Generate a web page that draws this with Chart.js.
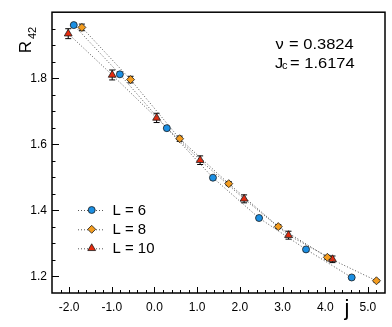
<!DOCTYPE html>
<html>
<head>
<meta charset="utf-8">
<script src="https://cdn.jsdelivr.net/npm/chart.js@4.4.1/dist/chart.umd.min.js"></script>
<style>
html,body{margin:0;padding:0;background:#fff;}
#c{display:block;}
</style>
</head>
<body>
<canvas id="c" width="392" height="327"></canvas>
<script>
// ---- data ----
const seriesLabels = ['L = 6', 'L = 8', 'L = 10'];
const xL6  = [-1.89, -0.81, 0.29, 1.37, 2.45, 3.55, 4.62];
const yL6  = [1.961, 1.812, 1.649, 1.499, 1.377, 1.282, 1.197];
const xL8  = [-1.70, -0.56, 0.59, 1.74, 2.90, 4.05, 5.20];
const yL8  = [1.954, 1.796, 1.617, 1.481, 1.351, 1.258, 1.187];
const eL8  = [0.010, 0.010, 0.008, 0.006, 0.006, 0.006, 0.004];
const xL10 = [-2.02, -0.99, 0.05, 1.07, 2.10, 3.14, 4.17];
const yL10 = [1.935, 1.810, 1.680, 1.552, 1.435, 1.325, 1.252];
const eL10 = [0.015, 0.015, 0.014, 0.013, 0.012, 0.012, 0.010];
const xTicks = [-2, -1, 0, 1, 2, 3, 4, 5];
const yTicks = [1.2, 1.4, 1.6, 1.8];
const nuText = '\u03BD';
const nuValue = '= 0.3824';
const jcText = '= 1.6174';

const BLUE = '#1b8fe3', ORANGE = '#f39c1f', RED = '#e62b0e';
const EDGE = '#1a1a1a';
const LINE = '#555555';
const FONT = '"Liberation Sans", Arial, Helvetica, sans-serif';

function pts(xs, ys) { return xs.map((x, i) => ({x: x, y: ys[i]})); }

function ds(label, data, style, color, radius, err) {
  return {
    label: label, data: data, showLine: true,
    borderColor: LINE, borderWidth: 1, borderDash: [1, 2],
    pointStyle: style, pointRadius: radius, pointHoverRadius: radius,
    pointBackgroundColor: color, pointBorderColor: EDGE, pointBorderWidth: 0.8,
    errors: err
  };
}

function stretchText(ctx, text, x, y, sx) {
  ctx.save();
  ctx.translate(x, y);
  ctx.scale(sx, 1);
  ctx.fillText(text, 0, 0);
  ctx.restore();
}

const decor = {
  id: 'decor',
  beforeDatasetsDraw(chart) {
    const ctx = chart.ctx, xs = chart.scales.x, ys = chart.scales.y;
    ctx.save();
    ctx.strokeStyle = '#000';
    ctx.lineWidth = 1;
    chart.data.datasets.forEach(d => {
      if (!d.errors) return;
      d.data.forEach((p, i) => {
        const e = d.errors[i];
        const px = xs.getPixelForValue(p.x);
        const p1 = ys.getPixelForValue(p.y + e), p2 = ys.getPixelForValue(p.y - e);
        ctx.beginPath();
        ctx.moveTo(px, p1); ctx.lineTo(px, p2);
        ctx.moveTo(px - 3, p1); ctx.lineTo(px + 3, p1);
        ctx.moveTo(px - 3, p2); ctx.lineTo(px + 3, p2);
        ctx.stroke();
      });
    });
    ctx.restore();
  },
  afterDraw(chart) {
    const ctx = chart.ctx, a = chart.chartArea, xs = chart.scales.x, ys = chart.scales.y;
    ctx.save();
    // frame
    ctx.strokeStyle = '#000';
    ctx.lineWidth = 1.5;
    ctx.strokeRect(a.left, a.top, a.right - a.left, a.bottom - a.top);
    // ticks (inward)
    ctx.lineWidth = 1;
    ctx.beginPath();
    for (let k = -12; k <= 27; k++) {
      const v = k * 0.2;
      const px = Math.round(xs.getPixelForValue(v)) + 0.5;
      if (px <= a.left + 1 || px >= a.right - 1) continue;
      const major = (k % 5 === 0);
      ctx.moveTo(px, a.bottom); ctx.lineTo(px, a.bottom - (major ? 6 : 3));
    }
    for (let k = 23; k <= 40; k++) {
      const v = k * 0.05;
      const py = Math.round(ys.getPixelForValue(v)) + 0.5;
      if (py <= a.top + 1 || py >= a.bottom - 1) continue;
      const major = (k % 4 === 0);
      ctx.moveTo(a.left, py); ctx.lineTo(a.left + (major ? 7 : 3.5), py);
    }
    ctx.stroke();

    // annotation
    ctx.fillStyle = '#000';
    ctx.textBaseline = 'alphabetic';
    ctx.textAlign = 'left';
    ctx.font = '15px ' + FONT;
    stretchText(ctx, nuText, 275.5, 48.5, 1.1);
    stretchText(ctx, nuValue, 289, 48.5, 1.1);
    stretchText(ctx, 'J', 275, 67.5, 1.1);
    ctx.font = '10px ' + FONT;
    stretchText(ctx, 'c', 282, 68.5, 1.1);
    ctx.font = '15px ' + FONT;
    stretchText(ctx, jcText, 290, 67.5, 1.1);

    // legend
    const colors = [BLUE, ORANGE, RED];
    const styles = ['circle', 'rectRot', 'triangle'];
    const radii = [3.5, 4, 4.5];
    const ly = [210, 229.3, 248.3];
    for (let i = 0; i < 3; i++) {
      ctx.save();
      ctx.strokeStyle = LINE; ctx.lineWidth = 1; ctx.setLineDash([1, 2]);
      ctx.beginPath(); ctx.moveTo(78, ly[i] + 0.5); ctx.lineTo(105, ly[i] + 0.5); ctx.stroke();
      ctx.restore();
      ctx.fillStyle = colors[i]; ctx.strokeStyle = EDGE; ctx.lineWidth = 0.8;
      Chart.helpers.drawPoint(ctx, {pointStyle: styles[i], radius: radii[i], borderWidth: 0.8, rotation: 0}, 91.7, ly[i]);
      ctx.fillStyle = '#000';
      ctx.font = '14.5px ' + FONT;
      ctx.textBaseline = 'middle';
      stretchText(ctx, seriesLabels[i], 112.5, ly[i] + 0.5, 1.03);
    }

    // axis titles
    ctx.textBaseline = 'alphabetic';
    ctx.font = '22px ' + FONT;
    ctx.textAlign = 'center';
    ctx.fillText('j', 347, 315);
    ctx.save();
    ctx.translate(31, 47);
    ctx.rotate(-Math.PI / 2);
    ctx.font = '17px ' + FONT;
    ctx.textAlign = 'center';
    ctx.fillText('R', 0, 0);
    ctx.restore();
    ctx.save();
    ctx.translate(36, 33);
    ctx.rotate(-Math.PI / 2);
    ctx.font = '11px ' + FONT;
    ctx.textAlign = 'center';
    ctx.fillText('42', 0, 0);
    ctx.restore();
    ctx.restore();
  }
};

new Chart(document.getElementById('c'), {
  type: 'scatter',
  data: {
    datasets: [
      ds(seriesLabels[0], pts(xL6, yL6), 'circle', BLUE, 3.5, null),
      ds(seriesLabels[1], pts(xL8, yL8), 'rectRot', ORANGE, 4, eL8),
      ds(seriesLabels[2], pts(xL10, yL10), 'triangle', RED, 4.5, eL10)
    ]
  },
  options: {
    responsive: false, animation: false, devicePixelRatio: 1,
    layout: {padding: {top: 7, right: 7, left: 0, bottom: 0}},
    plugins: {legend: {display: false}, tooltip: {enabled: false}},
    scales: {
      x: {
        type: 'linear', min: -2.4, max: 5.4,
        afterBuildTicks: s => { s.ticks = xTicks.map(v => ({value: v})); },
        afterFit: s => { s.height = 34; },
        grid: {display: false, drawTicks: false},
        border: {display: false},
        ticks: {padding: 7, color: '#000', font: {family: FONT, size: 12},
                callback: v => Number(v).toFixed(1), maxRotation: 0, autoSkip: false}
      },
      y: {
        type: 'linear', min: 1.15, max: 2.0,
        afterBuildTicks: s => { s.ticks = yTicks.map(v => ({value: v})); },
        afterFit: s => { s.width = 52; },
        grid: {display: false, drawTicks: false},
        border: {display: false},
        ticks: {padding: 5, color: '#000', font: {family: FONT, size: 12},
                callback: v => Number(v).toFixed(1), autoSkip: false}
      }
    }
  },
  plugins: [decor]
});
</script>
</body>
</html>
